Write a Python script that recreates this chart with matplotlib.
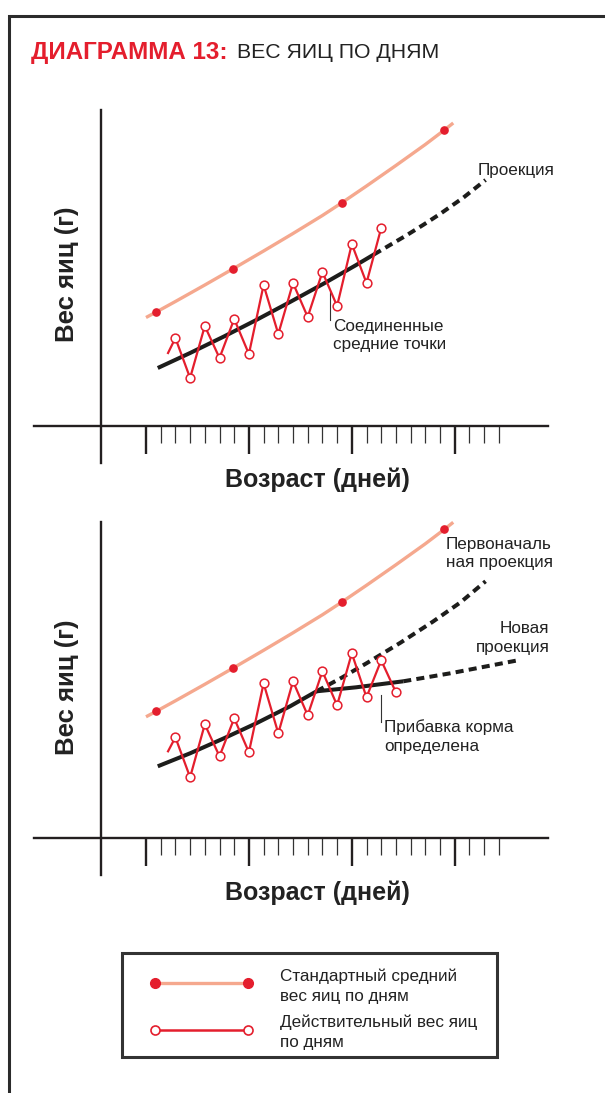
import matplotlib.pyplot as plt
from matplotlib import font_manager
from matplotlib.patches import Rectangle

# ---- data (days from first marked week, egg weight in g) ----
std_days = [0.0, 0.7, 2.0, 4.0, 5.9, 8.0, 10.0, 12.0, 13.3, 15.0, 17.0, 19.0, 20.3, 20.9]
std_marked = [1, 4, 8, 12]
std_top = [50.85, 51.4, 52.45, 54.1, 55.7, 57.5, 59.25, 61.05, 62.3, 64.0, 66.05, 68.15, 69.6, 70.3]
std_bot = [52.15, 52.7, 53.75, 55.4, 57.0, 58.8, 60.55, 62.35, 63.6, 65.3, 67.35, 69.45, 70.9, 71.6]

act_days_top = [1.5] + list(range(2, 17))
act_top = [47.3, 48.8, 44.8, 50.0, 46.8, 50.7, 47.2, 54.1, 49.2, 54.3,
           50.9, 55.4, 52.0, 58.2, 54.3, 59.8]
act_days_bot = [1.5] + list(range(2, 18))
act_bot = [48.7, 50.1, 46.1, 51.4, 48.2, 52.0, 48.6, 55.5, 50.5, 55.7,
           52.3, 56.7, 53.3, 58.5, 54.1, 57.8, 54.6]

trend_days_top = [0.8, 3.0, 5.3, 7.5, 9.8, 12.1, 14.3, 15.5]
trend_top = [45.8, 47.3, 48.95, 50.6, 52.4, 54.25, 56.1, 57.15]
proj_days_top = [15.5, 16.6, 17.7, 18.9, 20.0, 21.6, 23.1]
proj_top = [57.15, 58.1, 59.05, 60.15, 61.2, 62.85, 64.6]

trend_days_bot = [0.8, 3.0, 5.3, 7.5, 9.8, 11.6]
trend_bot = [47.2, 48.5, 50.0, 51.5, 53.2, 54.7]
new_days = [11.6, 14.3, 17.5]
new_bot = [54.7, 55.1, 55.7]
new_proj_days = [17.5, 20.7, 25.3]
new_proj_bot = [55.7, 56.5, 57.8]
old_proj_days = [11.6, 13.3, 15.0, 17.3, 19.5, 21.4, 23.1]
old_proj_bot = [54.7, 56.05, 57.5, 59.55, 61.65, 63.6, 65.7]

day_ticks = list(range(0, 25))
week = 7

RED = '#e41e2d'
SALMON = '#f5a88e'
BLACK = '#1d1d1b'
AXC = '#231f20'

W, H = 605, 1093
PX_DAY = 14.7
PX_G = 10.0
X0 = 146.0
BASE = 40.0


def has_font(name):
    try:
        font_manager.findfont(font_manager.FontProperties(family=name), fallback_to_default=False)
        return True
    except Exception:
        return False


plt.rcParams['font.family'] = ['Liberation Sans', 'DejaVu Sans']

fig = plt.figure(figsize=(W / 100, H / 100), dpi=100)
bg = fig.add_axes([0, 0, 1, 1])
bg.set_xlim(0, W)
bg.set_ylim(H, 0)
bg.axis('off')

# outer frame (only top and left edges are inside the picture)
bg.plot([8.5, 8.5, 620], [1110, 15.5, 15.5], color='#2b2b2b', lw=2.2, solid_joinstyle='miter')

# title
bg.text(31, 58.5, 'ДИАГРАММА 13:', color=RED, fontsize=17.4, fontweight='bold', va='baseline')
if has_font('Liberation Sans Narrow'):
    bg.text(237, 58.5, 'ВЕС ЯИЦ ПО ДНЯМ', color='#222', fontsize=18.5,
            family='Liberation Sans Narrow', va='baseline')
else:
    bg.text(237, 58.5, 'ВЕС ЯИЦ ПО ДНЯМ', color='#222', fontsize=15.3, va='baseline')


def chart_axes(y0, top, bottom, left=30, right=565):
    ax = fig.add_axes([left / W, 1 - bottom / H, (right - left) / W, (bottom - top) / H])
    ax.set_xlim((left - X0) / PX_DAY, (right - X0) / PX_DAY)
    ax.set_ylim(BASE - (bottom - y0) / PX_G, BASE + (y0 - top) / PX_G)
    ax.patch.set_alpha(0)
    ax.spines['top'].set_visible(False)
    ax.spines['right'].set_visible(False)
    ax.spines['left'].set_position(('data', (100.5 - X0) / PX_DAY))
    ax.spines['left'].set_bounds(BASE - 36.5 / PX_G, BASE + 316 / PX_G)
    ax.spines['bottom'].set_position(('data', BASE))
    ax.spines['bottom'].set_bounds((33.5 - X0) / PX_DAY, (547.5 - X0) / PX_DAY)
    for s in ('left', 'bottom'):
        ax.spines[s].set_linewidth(1.7)
        ax.spines[s].set_color(AXC)
    ax.set_xticks([d for d in day_ticks if d % week == 0])
    ax.set_xticks([d for d in day_ticks if d % week], minor=True)
    ax.set_yticks([])
    ax.tick_params(axis='x', which='major', direction='out', length=20, width=1.7,
                   color=AXC, labelbottom=False)
    ax.tick_params(axis='x', which='minor', direction='out', length=12, width=0.9,
                   color='#333333')
    return ax


def draw_std(ax, vals):
    ax.plot(std_days, vals, color=SALMON, lw=2.4, solid_capstyle='butt',
            marker='o', markevery=std_marked, ms=5.2, mfc=RED, mec=RED, zorder=2)


def draw_act(ax, days, vals):
    ax.plot(days, vals, color=RED, lw=1.6, marker='o', ms=6.3, mfc='white', mec=RED,
            mew=1.1, markevery=list(range(1, len(days))), zorder=4)


dash = (0, (2.0, 1.3))

# ---- top chart ----
ax1 = chart_axes(426, 95, 470)
draw_std(ax1, std_top)
ax1.plot(trend_days_top, trend_top, color=BLACK, lw=2.9, solid_capstyle='butt', zorder=3)
ax1.plot(proj_days_top, proj_top, color=BLACK, lw=2.9, ls=dash, zorder=3)
draw_act(ax1, act_days_top, act_top)

# ---- bottom chart ----
ax2 = chart_axes(838.3, 507, 883)
draw_std(ax2, std_bot)
ax2.plot(trend_days_bot, trend_bot, color=BLACK, lw=2.9, solid_capstyle='butt', zorder=3)
ax2.plot(new_days, new_bot, color=BLACK, lw=2.9, solid_capstyle='butt', zorder=3)
ax2.plot(new_proj_days, new_proj_bot, color=BLACK, lw=2.9, ls=dash, zorder=3)
ax2.plot(old_proj_days, old_proj_bot, color=BLACK, lw=2.9, ls=dash, zorder=3)
draw_act(ax2, act_days_bot, act_bot)

# axis titles
for yc in (274, 687):
    bg.text(67, yc, 'Вес яиц (г)', rotation=90, fontsize=18.5, fontweight='bold',
            color='#222', ha='center', va='center')
for yb in (487, 900):
    bg.text(317, yb, 'Возраст (дней)', fontsize=18, fontweight='bold', color='#222',
            ha='center', va='baseline')

# annotations
ann = dict(fontsize=12.3, color='#222', va='baseline')
bg.text(478, 175, 'Проекция', **ann)
bg.plot([330, 330], [292, 320], color='#333', lw=0.8)
bg.text(333, 331, 'Соединенные', **ann)
bg.text(333, 349.3, 'средние точки', **ann)

bg.text(446, 549, 'Первоначаль', **ann)
bg.text(446, 567.5, 'ная проекция', **ann)
bg.text(549.5, 633.3, 'Новая', ha='right', **ann)
bg.text(549.5, 651.7, 'проекция', ha='right', **ann)
bg.plot([381, 381], [695, 722], color='#333', lw=0.8)
bg.text(384.5, 732.3, 'Прибавка корма', **ann)
bg.text(384.5, 750.7, 'определена', **ann)

# legend
bg.add_patch(Rectangle((121.7, 953.3), 375, 103.2, fill=False, ec='#333', lw=2.2))
bg.plot([155, 248], [983.3, 983.3], color=SALMON, lw=2.4, marker='o', ms=7, mfc=RED, mec=RED)
bg.plot([155, 248], [1030, 1030], color=RED, lw=1.8, marker='o', ms=6.5, mfc='white',
        mec=RED, mew=1.2)
bg.text(280, 981, 'Стандартный средний', **ann)
bg.text(280, 1001, 'вес яиц по дням', **ann)
bg.text(280, 1027, 'Действительный вес яиц', **ann)
bg.text(280, 1047, 'по дням', **ann)

fig.savefig('out.png', dpi=100)
